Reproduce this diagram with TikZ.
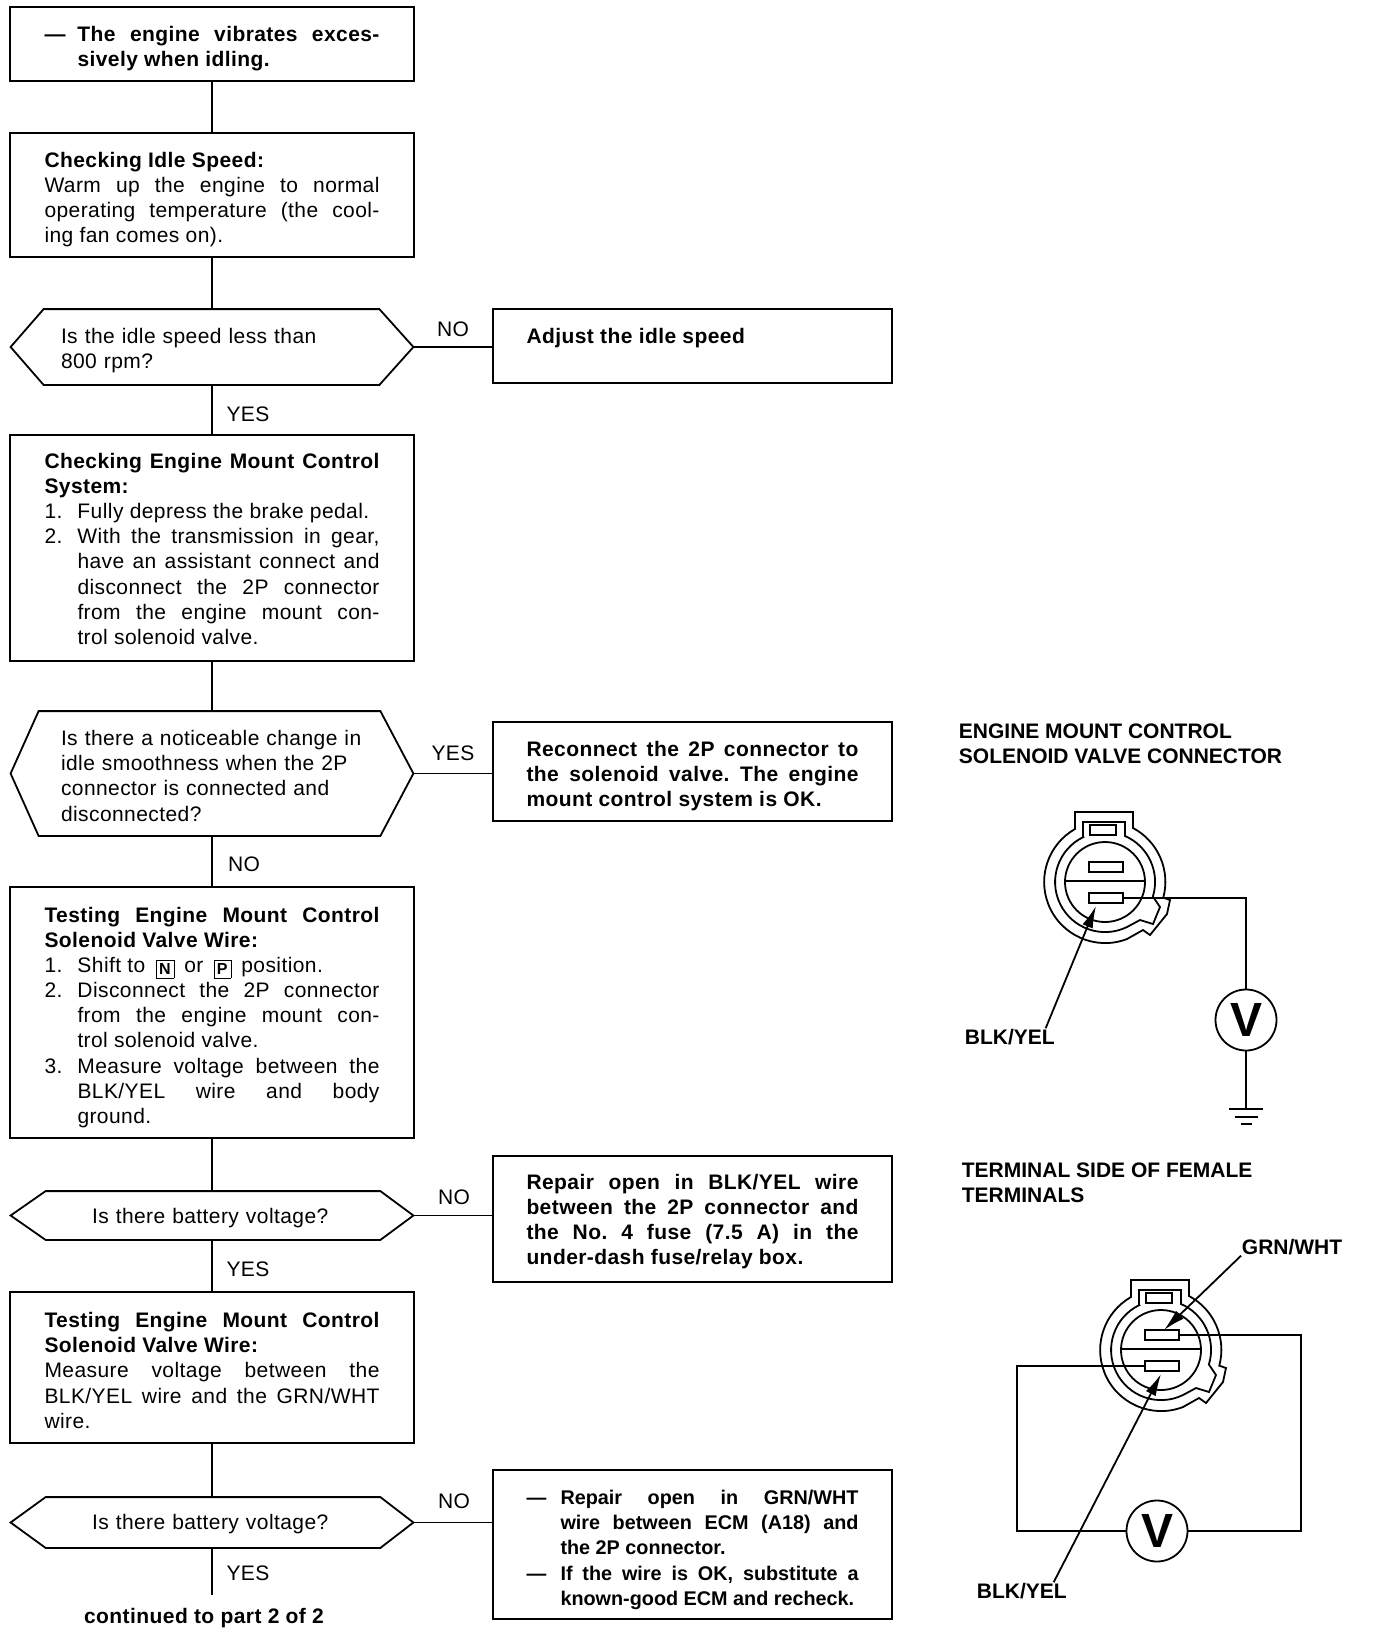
\documentclass[tikz,border=0pt]{standalone}
\usepackage{fontspec}
\setmainfont[LetterSpace=2]{Liberation Sans}
\newfontfamily\titrefont{Liberation Sans}
\usetikzlibrary{arrows.meta}
\setlength{\parindent}{0pt}
\setlength{\fboxsep}{3pt}
\frenchspacing
\newcommand{\ligne}[3][33pt]{\par\hangindent=#1\hangafter=1\noindent\makebox[#1][l]{#2}#3\par}
\newcommand{\touche}[1]{\hspace{4pt}\raisebox{-2pt}[0pt][0pt]{\fbox{\fontsize{16}{16}\selectfont\bfseries #1}}\hspace{4pt}}
\newcommand{\haut}[1]{\rule{0pt}{#1pt}}
\begin{document}
\begin{tikzpicture}[x=1pt,y=1pt,line width=1.8pt]
\tikzset{boite/.style={draw, inner xsep=34.5pt, inner ysep=2pt, text width=335pt, align=justify, font=\fontsize{21}{25.1}\selectfont}}
\tikzset{droite/.style={boite, inner xsep=33.5pt, text width=332pt}}
\tikzset{hexa/.style={inner xsep=49.5pt, inner ysep=2pt, text width=302pt, minimum width=401pt, align=left, font=\fontsize{21}{25.1}\selectfont}}
\tikzset{etiq/.style={inner sep=0pt, font=\fontsize{21}{25.1}\selectfont}}
\tikzset{titre/.style={inner sep=0pt, anchor=west, align=left, font=\titrefont\bfseries\fontsize{21}{25.5}\selectfont}}
\tikzset{voltm/.style={draw, circle, minimum size=61pt, inner sep=0pt, font=\titrefont\bfseries\fontsize{48}{48}\selectfont}}
\tikzset{fleche/.style={-{Latex[length=22pt,width=11pt]}}}
\tikzset{prise/.pic={
\draw (-30,53) -- (-30,70) -- (28,70) -- (28,54) arc[start angle=62, end angle=-15, radius=61pt] -- (65,-18) -- (62,-32) -- (45,-53) -- (38,-48) -- (22,-57) arc[start angle=-69, end angle=-240, radius=61pt] -- cycle;
\draw (-22,45) -- (-22,60) -- (20,60) -- (20,46) arc[start angle=66.5, end angle=-17, radius=50pt] -- (55,-25) -- (48,-42) -- (35,-38) -- (22,-45) arc[start angle=-64, end angle=-244, radius=50pt] -- cycle;
\draw (0,0) circle[radius=40pt];
\draw (-40,1) -- (40,1);
\draw (-15,57) rectangle (11,47);
\draw (-16,20) rectangle (18,10);
\draw (-16,-11) rectangle (18,-21);
\coordinate (-hd) at (18,15);
\coordinate (-hm) at (3,20);
\coordinate (-bd) at (18,-16);
\coordinate (-bg) at (-16,-16);
\coordinate (-bm) at (0,-24);
}}
\useasboundingbox (0,0) rectangle (1392,-1634);
\node[boite, minimum height=74pt] (B1) at (212,-44) {\bfseries\ligne{—}{The engine vibrates exces-\linebreak sively when idling.}};
\node[boite, minimum height=124pt] (B2) at (212,-195) {\haut{25}{\bfseries Checking Idle Speed:}\par
Warm up the engine to normal\linebreak operating temperature (the cool-\linebreak ing fan comes on).};
\node[hexa, minimum height=74pt] (Q1) at (212,-347) {\haut{23}Is the idle speed less than\\800 rpm?};
\node[droite, minimum height=74pt] (A1) at (692.5,-346) {\bfseries Adjust the idle speed\rule[-20pt]{0pt}{20pt}};
\node[boite, minimum height=226pt] (B3) at (212,-548) {\haut{17}{\bfseries Checking Engine Mount Control\linebreak System:}\par
\ligne{1.}{Fully depress the brake pedal.}
\ligne{2.}{With the transmission in gear,\linebreak have an assistant connect and\linebreak disconnect the 2P connector\linebreak from the engine mount con-\linebreak trol solenoid valve.}};
\node[hexa, minimum height=123pt] (Q2) at (212,-773.5) {\haut{20}Is there a noticeable change in\\idle smoothness when the 2P\\connector is connected and\\disconnected?};
\node[droite, minimum height=99pt] (A2) at (692.5,-771.5) {\haut{25}\bfseries Reconnect the 2P connector to\linebreak the solenoid valve. The engine\linebreak mount control system is OK.};
\node[boite, minimum height=251pt] (B4) at (212,-1012.5) {\haut{25}{\bfseries Testing Engine Mount Control\linebreak Solenoid Valve Wire:}\par
\ligne{1.}{Shift to \touche{N} or \touche{P} position.}
\ligne{2.}{Disconnect the 2P connector\linebreak from the engine mount con-\linebreak trol solenoid valve.}
\ligne{3.}{Measure voltage between the\linebreak BLK/YEL wire and body\linebreak ground.}};
\node[hexa, minimum height=47pt] (Q3) at (212,-1215.5) {\haut{21}\hspace*{31pt}Is there battery voltage?};
\node[droite, minimum height=126pt] (A3) at (692.5,-1219) {\haut{21}\bfseries Repair open in BLK/YEL wire\linebreak between the 2P connector and\linebreak the No. 4 fuse (7.5 A) in the\linebreak under-dash fuse/relay box.};
\node[boite, minimum height=151pt] (B5) at (212,-1367.5) {\haut{21}{\bfseries Testing Engine Mount Control\linebreak Solenoid Valve Wire:}\par
Measure voltage between the\linebreak BLK/YEL wire and the GRN/WHT\linebreak wire.};
\node[hexa, minimum height=49pt] (Q4) at (212,-1522.5) {\haut{18}\hspace*{31pt}Is there battery voltage?};
\node[droite, minimum height=149pt] (A4) at (692.5,-1544.5) {\titrefont\bfseries\fontsize{19.8}{25.1}\selectfont\ligne[34pt]{\haut{19}—}{Repair open in GRN/WHT\linebreak wire between ECM (A18) and\linebreak the 2P connector.}
\ligne[34pt]{—}{If the wire is OK, substitute a\linebreak known-good ECM and recheck.}};
\foreach \q/\a/\b in {Q1/33/34, Q2/28/33, Q3/35/33, Q4/35/33}
\draw (\q.west) -- ([xshift=\a pt]\q.north west) -- ([xshift=-\b pt]\q.north east) -- (\q.east) -- ([xshift=-\b pt]\q.south east) -- ([xshift=\a pt]\q.south west) -- cycle;
\node[etiq] (NO1) at (453,-329) {NO};
\node[etiq] (YES1) at (248,-414) {YES};
\node[etiq] (YES2) at (453,-753) {YES};
\node[etiq] (NO2) at (244,-864) {NO};
\node[etiq] (NO3) at (454,-1197) {NO};
\node[etiq] (YES3) at (248,-1269) {YES};
\node[etiq] (NO4) at (454,-1501) {NO};
\node[etiq] (YES4) at (248,-1573) {YES};
\node[etiq, font=\bfseries\fontsize{21}{25.1}\selectfont] (SUITE) at (204,-1618) {continued to part 2 of 2};
\coordinate (C4) at (212,-1595);
\draw (B1.south) -- (B2.north);
\draw (B2.south) -- (Q1.north);
\draw (Q1.south) -- (B3.north);
\draw (B3.south) -- (Q2.north);
\draw (Q2.south) -- (B4.north);
\draw (B4.south) -- (Q3.north);
\draw (Q3.south) -- (B5.north);
\draw (B5.south) -- (Q4.north);
\draw (Q4.south) -- (C4);
\draw (Q1.east) -- (Q1.east -| A1.west);
\draw (Q2.east) -- (Q2.east -| A2.west);
\draw (Q3.east) -- (Q3.east -| A3.west);
\draw (Q4.east) -- (Q4.east -| A4.west);
\node[titre] (T1) at (958,-744) {ENGINE MOUNT CONTROL\\SOLENOID VALVE CONNECTOR};
\pic (P1) at (1105,-882) {prise};
\node[voltm] (V1) at (1246,-1020) {V};
\coordinate (G1) at (1246,-1109);
\draw (P1-bd) -| (V1.north);
\draw (V1.south) -- (G1);
\draw ([xshift=-17pt]G1) -- ([xshift=17pt]G1);
\draw ([shift={(-11.5pt,-8pt)}]G1) -- ([shift={(11.5pt,-8pt)}]G1);
\draw ([shift={(-5.5pt,-15pt)}]G1) -- ([shift={(5.5pt,-15pt)}]G1);
\node[titre] (L1) at (964,-1037) {BLK/YEL};
\draw[fleche] ([xshift=-10pt]L1.north east) -- ([xshift=-9pt]P1-bm);
\node[titre] (T2) at (961,-1183) {TERMINAL SIDE OF FEMALE\\TERMINALS};
\pic (P2) at (1161,-1350) {prise};
\node[voltm] (V2) at (1157,-1531) {V};
\coordinate (C1) at (1017,-1450);
\coordinate (C2) at (1301,-1450);
\draw (P2-bg) -| (C1) |- (V2.west);
\draw (P2-hd) -| (C2) |- (V2.east);
\node[titre] (L2) at (1241,-1247) {GRN/WHT};
\draw[fleche] (L2.south west) -- (P2-hm);
\node[titre] (L3) at (976,-1591) {BLK/YEL};
\draw[fleche] ([xshift=-14pt]L3.north east) -- (P2-bm);
\end{tikzpicture}
\end{document}
